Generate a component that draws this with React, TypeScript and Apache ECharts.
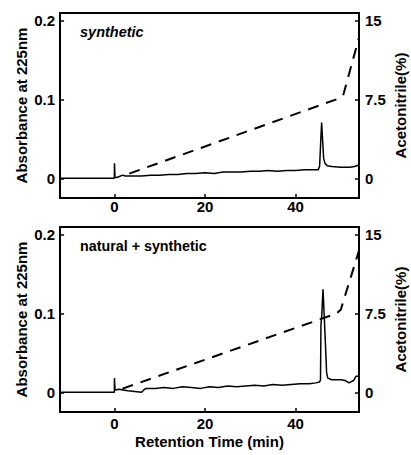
import React, { useEffect, useRef } from "react";
import * as echarts from "echarts";

// ---- Data ----
// Top panel: synthetic
const timeTop = [-12, 0, 0.02, 0.15, 0.5, 1, 1.8, 2.5, 4, 6, 8, 10, 12, 14, 16, 18, 20, 22, 24, 26, 28, 30, 32, 34, 36, 38, 40, 42, 44, 45.0, 45.3, 45.5, 45.75, 46.0, 46.2, 46.5, 47, 48, 50, 52, 53, 54];
const absTop = [0, 0, 0.019, 0.001, 0.001, 0.002, 0.004, 0.003, 0.003, 0.003, 0.004, 0.004, 0.005, 0.005, 0.006, 0.006, 0.007, 0.006, 0.008, 0.008, 0.008, 0.009, 0.009, 0.01, 0.009, 0.01, 0.01, 0.011, 0.011, 0.011, 0.015, 0.04, 0.071, 0.045, 0.025, 0.019, 0.016, 0.015, 0.014, 0.014, 0.015, 0.017];
const gradTimeTop = [3.3, 49.5, 50.5, 54];
const gradTop = [0.45, 7.6, 7.9, 13.4];

// Bottom panel: natural + synthetic
const timeBot = [-12, 0, 0.02, 0.15, 1, 2, 3, 4.5, 6, 6.5, 7, 9, 11, 13, 15, 17, 19, 21, 23, 25, 27, 29, 31, 33, 35, 37, 39, 41, 43, 44.5, 45.3, 45.5, 45.6, 45.8, 46.05, 46.3, 46.6, 46.85, 47.1, 48, 50, 51, 51.8, 52.8, 53.3, 54];
const absBot = [0, 0, 0.018, 0.003, 0.004, 0.003, 0.002, 0.001, 0.0, 0.003, 0.005, 0.005, 0.006, 0.005, 0.007, 0.006, 0.005, 0.007, 0.006, 0.008, 0.007, 0.008, 0.009, 0.008, 0.01, 0.009, 0.01, 0.011, 0.011, 0.012, 0.013, 0.016, 0.085, 0.1, 0.131, 0.1, 0.06, 0.025, 0.018, 0.016, 0.016, 0.015, 0.012, 0.015, 0.02, 0.021];
const gradTimeBot = [1.8, 49, 50, 54];
const gradBot = [0.35, 7.5, 7.9, 13.5];

// Axis ranges and tick values
const xRange = [-12, 54];
const absRange = [-0.025, 0.21];
const acnRange = [-1.875, 15.75];
const xTicks = [0, 20, 40];
const absTicks = [0, 0.1, 0.2];
const acnTicks = [0, 7.5, 15];

const panelLabels = ["synthetic", "natural + synthetic"];

const FONT = "'Liberation Sans', Arial, Helvetica, sans-serif";

const zip = (xs: number[], ys: number[]) => xs.map((x, i) => [x, ys[i]]);

export default function App() {
  const ref = useRef<HTMLDivElement>(null);

  useEffect(() => {
    if (!ref.current) return;
    const chart = echarts.init(ref.current, undefined, { renderer: "svg" });

    const lineStyle = { color: "#000", width: 2 };
    const labelBase = { color: "#000", fontSize: 15, fontWeight: "bold", fontFamily: FONT };
    const nameStyle = { color: "#000", fontSize: 15, fontWeight: "bold", fontFamily: FONT };

    const makeX = (gi: number, withName: boolean, margin: number) => ({
      type: "value",
      gridIndex: gi,
      min: xRange[0],
      max: xRange[1],
      splitLine: { show: false },
      axisLine: { show: true, onZero: false, lineStyle },
      axisTick: { show: false },
      axisLabel: { ...labelBase, margin, customValues: xTicks },
      ...(withName
        ? { name: "Retention Time (min)", nameLocation: "middle", nameGap: 22, nameMoveOverlap: false, nameTextStyle: nameStyle }
        : {}),
    });

    const makeYLeft = (gi: number) => ({
      type: "value",
      gridIndex: gi,
      position: "left",
      min: absRange[0],
      max: absRange[1],
      splitLine: { show: false },
      axisLine: { show: true, onZero: false, lineStyle },
      axisTick: { show: false },
      axisLabel: { ...labelBase, margin: 5, customValues: absTicks, formatter: (v: number) => String(Math.round(v * 10) / 10) },
      name: "Absorbance at 225nm",
      nameLocation: "middle",
      nameGap: 31,
      nameRotate: 90,
      nameMoveOverlap: false,
      nameTextStyle: nameStyle,
    });

    const makeYRight = (gi: number) => ({
      type: "value",
      gridIndex: gi,
      position: "right",
      min: acnRange[0],
      max: acnRange[1],
      splitLine: { show: false },
      axisLine: { show: true, onZero: false, lineStyle },
      axisTick: { show: false },
      axisLabel: { ...labelBase, margin: 6, customValues: acnTicks },
      name: "Acetonitrile(%)",
      nameLocation: "middle",
      nameGap: 34,
      nameRotate: 90,
      nameMoveOverlap: false,
      nameTextStyle: nameStyle,
    });

    const gridBase = {
      left: 60,
      width: 299,
      height: 185,
      containLabel: false,
      outerBoundsMode: "none",
      show: true,
      borderColor: "#000",
      borderWidth: 2,
      backgroundColor: "transparent",
    };

    // inside tick marks, drawn as short mark lines at the tick values
    const dx = 0.9; // minutes (~4 px)
    const dAbs = 0.005; // absorbance (~4 px)
    const tickMarkStyle = { color: "#000", width: 1.5, type: "solid" };
    const tickMarks = (withX: boolean, right: boolean) => ({
      silent: true,
      symbol: ["none", "none"],
      label: { show: false },
      lineStyle: tickMarkStyle,
      emphasis: { disabled: true },
      data: right
        ? acnTicks.map((v) => [{ coord: [xRange[1], v] }, { coord: [xRange[1] - dx, v] }])
        : [
            ...(withX ? xTicks.map((v) => [{ coord: [v, absRange[0]] }, { coord: [v, absRange[0] + dAbs] }]) : []),
            ...absTicks.map((v) => [{ coord: [xRange[0], v] }, { coord: [xRange[0] + dx, v] }]),
          ],
    });

    const solid = { color: "#000", width: 1.5 };
    const dashed = { color: "#000", width: 2, type: [11, 8] };

    const option: any = {
      animation: false,
      backgroundColor: "#fff",
      grid: [
        { ...gridBase, top: 13 },
        { ...gridBase, top: 227 },
      ],
      xAxis: [makeX(0, false, 1), makeX(1, true, 4)],
      yAxis: [makeYLeft(0), makeYRight(0), makeYLeft(1), makeYRight(1)],
      series: [
        { type: "line", xAxisIndex: 0, yAxisIndex: 0, data: zip(timeTop, absTop), symbol: "none", lineStyle: solid, itemStyle: { color: "#000" }, markLine: tickMarks(true, false) },
        { type: "line", xAxisIndex: 0, yAxisIndex: 1, data: zip(gradTimeTop, gradTop), symbol: "none", lineStyle: dashed, itemStyle: { color: "#000" }, markLine: tickMarks(false, true) },
        { type: "line", xAxisIndex: 1, yAxisIndex: 2, data: zip(timeBot, absBot), symbol: "none", lineStyle: solid, itemStyle: { color: "#000" }, markLine: tickMarks(true, false) },
        { type: "line", xAxisIndex: 1, yAxisIndex: 3, data: zip(gradTimeBot, gradBot), symbol: "none", lineStyle: dashed, itemStyle: { color: "#000" }, markLine: tickMarks(false, true) },
      ],
      graphic: [
        {
          type: "text",
          left: 80,
          top: 24,
          style: { text: panelLabels[0], fill: "#000", fontSize: 14.5, fontWeight: "bold", fontStyle: "italic", fontFamily: FONT },
        },
        {
          type: "text",
          left: 80,
          top: 239,
          style: { text: panelLabels[1], fill: "#000", fontSize: 14.3, fontWeight: "bold", fontFamily: FONT },
        },
      ],
    };

    chart.setOption(option);
    return () => chart.dispose();
  }, []);

  return (
    <div
      ref={ref}
      style={{ position: "fixed", left: 0, top: 0, width: 411, height: 455, background: "#fff" }}
    />
  );
}
